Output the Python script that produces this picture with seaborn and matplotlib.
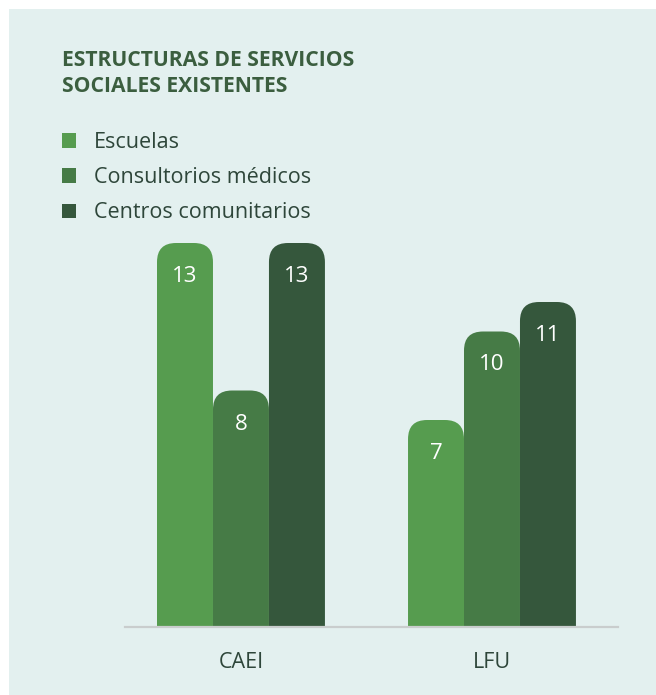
import matplotlib
matplotlib.use("Agg")
import matplotlib.pyplot as plt
from matplotlib.patches import FancyBboxPatch, Rectangle
import seaborn as sns
import pandas as pd

# Data
zonas = ["CAEI", "LFU"]
tipos = ["Escuelas", "Consultorios médicos", "Centros comunitarios"]
escuelas = [13, 7]
consultorios = [8, 10]
centros = [13, 11]

colores = ["#569c4f", "#467b46", "#35573c"]
fondo = "#e3f0ef"
titulo_color = "#3b5e3f"
texto_color = "#2e463a"

df = pd.DataFrame({
    "zona": zonas * 3,
    "tipo": [tipos[0]] * 2 + [tipos[1]] * 2 + [tipos[2]] * 2,
    "n": escuelas + consultorios + centros,
})

sns.set_theme(style="white")
plt.rcParams["font.family"] = ["Open Sans", "DejaVu Sans"]

W, H = 656, 695
fig = plt.figure(figsize=(W / 100, H / 100), dpi=100, facecolor="white")
fig.patches.append(Rectangle((9 / W, 0), 1, 1 - 9 / H, transform=fig.transFigure,
                             facecolor=fondo, edgecolor="none", zorder=-10))

ax_left, ax_right = 125 / W, 618 / W
ax_bottom, ax_top = 1 - 626.5 / H, 1 - 243 / H
ax = fig.add_axes([ax_left, ax_bottom, ax_right - ax_left, ax_top - ax_bottom])
ax.set_facecolor("none")

sns.barplot(data=df, x="zona", y="n", hue="tipo", hue_order=tipos, order=zonas,
            palette=colores, width=0.669, saturation=1, legend=False, ax=ax)

ax.set_xlim(-0.462, 1.502)
ax.set_ylim(0, 13)

# Rounded tops for the bars
ax_w_px = (ax_right - ax_left) * W
ax_h_px = (ax_top - ax_bottom) * H
x_per_px = (1.502 + 0.462) / ax_w_px
y_per_px = 13 / ax_h_px
aspect = y_per_px / x_per_px
r_px = 19
r = r_px * x_per_px

bars = list(ax.patches)
for bar in bars:
    x, w, h = bar.get_x(), bar.get_width(), bar.get_height()
    color = bar.get_facecolor()
    bar.set_visible(False)
    extra = r_px * y_per_px * 1.5
    rb = FancyBboxPatch((x, -extra), w, h + extra,
                        boxstyle=f"round,pad=0,rounding_size={r}",
                        mutation_aspect=aspect, facecolor=color,
                        edgecolor="none", zorder=2)
    ax.add_patch(rb)
    ax.annotate(f"{h:.0f}", xy=(x + w / 2, h), xytext=(0, -39),
                textcoords="offset pixels", ha="center", va="baseline",
                color="white", fontsize=16, zorder=3)

for s in ["top", "right", "left"]:
    ax.spines[s].set_visible(False)
ax.spines["bottom"].set_color("#c9cdcd")
ax.spines["bottom"].set_linewidth(1.6)
ax.set_yticks([])
ax.set_xlabel("")
ax.set_ylabel("")
ax.tick_params(axis="x", length=0, pad=18.5, labelsize=15.5, labelcolor=texto_color)

# Title
fig.text(62 / W, 1 - 66.5 / H, "ESTRUCTURAS DE SERVICIOS", fontsize=15.2,
         fontweight="bold", color=titulo_color, va="baseline", ha="left")
fig.text(62 / W, 1 - 92.5 / H, "SOCIALES EXISTENTES", fontsize=15.2,
         fontweight="bold", color=titulo_color, va="baseline", ha="left")

# Legend
handles = [Rectangle((0, 0), 1, 1, facecolor=c, edgecolor="none") for c in colores]
leg = fig.legend(handles, tipos, loc="upper left", bbox_to_anchor=(62 / W, 1 - 132 / H),
                 bbox_transform=fig.transFigure, frameon=False, fontsize=15.5,
                 handlelength=0.65, handleheight=0.65, handletextpad=0.84,
                 labelspacing=0.66, borderpad=0, borderaxespad=0)
for t in leg.get_texts():
    t.set_color(texto_color)

fig.savefig("out.png", dpi=100, facecolor=fig.get_facecolor())
